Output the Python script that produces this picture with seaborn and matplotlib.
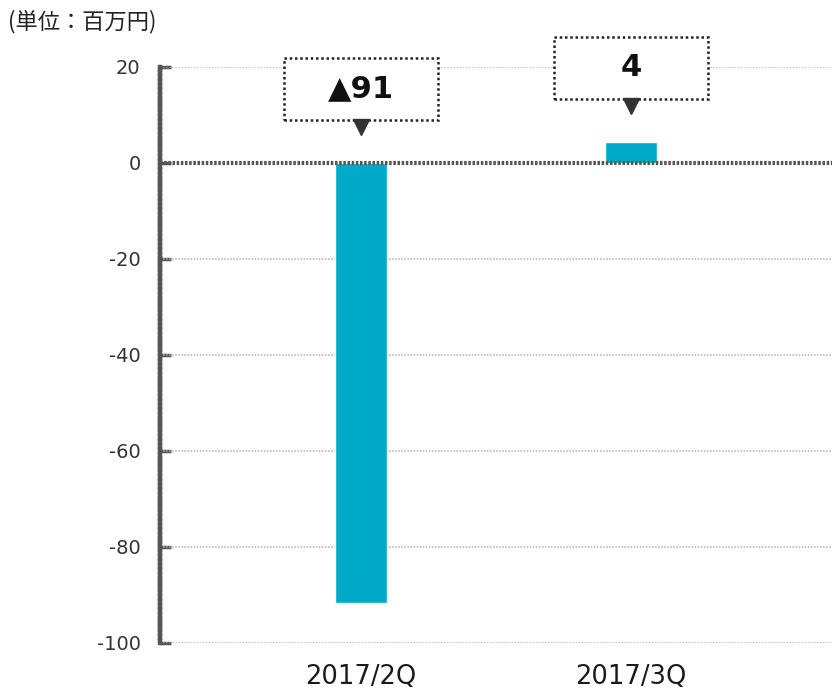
import matplotlib
matplotlib.use("Agg")
import matplotlib.pyplot as plt
import seaborn as sns
import pandas as pd
from matplotlib.patches import Rectangle

categories = ["2017/2Q", "2017/3Q"]
values = [-91.6, 4.4]
labels = ["▲91", "4"]
y_ticks = [20, 0, -20, -40, -60, -80, -100]
unit_label = "(単位：百万円)"

sns.set_theme(style="white")
plt.rcParams["font.family"] = ["DejaVu Sans", "Noto Sans CJK JP"]
plt.rcParams["axes.unicode_minus"] = False

df = pd.DataFrame({"cat": categories, "val": values})

fig = plt.figure(figsize=(8.32, 6.92), dpi=100)
ax = fig.add_axes([160 / 832, 1 - 643 / 692, 1 - 160 / 832, (643 - 67) / 692])

sns.barplot(data=df, x="cat", y="val", color="#00aac8", width=0.195,
            saturation=1, ax=ax, zorder=3)

ax.set_xlim(-0.744, 1.744)
ax.set_ylim(-100, 20)
ax.set_yticks(y_ticks)
ax.set_xlabel("")
ax.set_ylabel("")

# grid lines
for t in y_ticks:
    if t == 0:
        ax.axhline(0, color="#555555", lw=3, ls=(0, (0.6, 0.4)), zorder=4)
    else:
        ax.axhline(t, color="#b0b0b0", lw=1.1, ls=(0, (1, 1)), zorder=1)

for s in ["top", "right", "bottom"]:
    ax.spines[s].set_visible(False)
ax.spines["left"].set_color("#555555")
ax.spines["left"].set_linewidth(3.2)
ax.spines["left"].set_linestyle((0, (0.6, 0.4)))

ax.tick_params(axis="y", left=True, direction="in", length=8, width=2.5,
               color="#555555", pad=14, labelsize=14, labelcolor="#333333")
ax.tick_params(axis="x", bottom=False, length=0, pad=15, labelsize=18.5,
               labelcolor="#1a1a1a")

# annotation boxes
box_w = 0.567
box_h = 12.9
for i, (v, lab) in enumerate(zip(values, labels)):
    base = max(v, 0)
    cy = base + 15.4
    rect = Rectangle((i - box_w / 2, cy - box_h / 2), box_w, box_h,
                     facecolor="white", edgecolor="#222222", lw=1.8,
                     ls=(0, (1, 1.1)), zorder=5, clip_on=False)
    ax.add_patch(rect)
    ax.text(i, cy, lab, ha="center", va="center", fontsize=22,
            fontweight="bold", color="#111111", zorder=6, clip_on=False)
    ax.plot([i], [cy - box_h / 2 - 1.5], marker="v", markersize=12,
            color="#333333", zorder=6, clip_on=False)

fig.text(8 / 832, 1 - 22 / 692, unit_label, ha="left", va="center",
         fontsize=16, color="#222222", family=["Noto Sans CJK JP", "DejaVu Sans"])

fig.savefig("out.png", dpi=100)
